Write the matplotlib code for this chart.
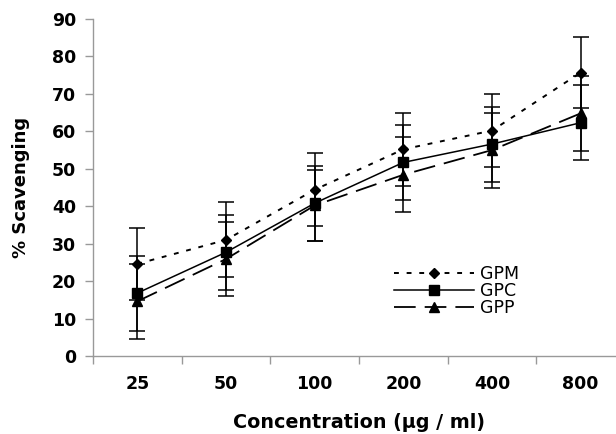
import matplotlib
matplotlib.use("Agg")
import matplotlib.pyplot as plt
import numpy as np

categories = ["25", "50", "100", "200", "400", "800"]
gpm = [24.6, 31.0, 44.4, 55.2, 60.2, 75.7]
gpc = [16.8, 27.7, 40.8, 51.7, 56.6, 62.3]
gpp = [14.6, 25.9, 40.2, 48.4, 55.0, 64.8]
gpm_err = [9.7, 10.0, 9.7, 9.8, 9.7, 9.5]
gpc_err = [10.0, 10.0, 10.0, 10.0, 10.0, 10.0]
gpp_err = [10.0, 10.0, 9.5, 10.0, 10.0, 10.0]
yticks = [0, 10, 20, 30, 40, 50, 60, 70, 80, 90]

fig = plt.figure(figsize=(6.16, 4.34), dpi=100)
ax = fig.add_axes([93/616, 1-356/434, 532/616, 337/434])
x = np.arange(len(categories))

common = dict(color="black", ecolor="black", elinewidth=1.1, capsize=5.8, capthick=1.1)
ax.errorbar(x, gpm, yerr=gpm_err, fmt="none", **common)
ax.errorbar(x, gpc, yerr=gpc_err, fmt="none", **common)
ax.errorbar(x, gpp, yerr=gpp_err, fmt="none", **common)

ax.plot(x, gpm, color="black", lw=1.4, dashes=(2.5, 4), marker="D", ms=5.5, label="GPM")
ax.plot(x, gpc, color="black", lw=1.1, ls="-", marker="s", ms=6.5, label="GPC")
ax.plot(x, gpp, color="black", lw=1.3, dashes=(12, 5), marker="^", ms=7, label="GPP")

ax.set_xlim(-0.5, 5.5)
ax.set_ylim(0, 90)
ax.set_yticks(yticks)
ax.set_xticks(x)
ax.set_xticklabels(categories)
ax.set_xticks(np.arange(-0.5, 6.0, 1.0), minor=True)
ax.tick_params(axis="x", which="major", length=0, pad=14)
ax.tick_params(axis="x", which="minor", length=6, width=1, color="#999999")
ax.tick_params(axis="y", length=6, width=1, color="#999999", pad=6)
for lab in ax.get_xticklabels() + ax.get_yticklabels():
    lab.set_fontweight("bold")
    lab.set_fontsize(12.5)
    lab.set_family("DejaVu Sans")

for s in ["top", "right"]:
    ax.spines[s].set_visible(False)
for s in ["left", "bottom"]:
    ax.spines[s].set_color("#999999")
    ax.spines[s].set_linewidth(1)

ax.set_ylabel("% Scavenging", fontsize=13, fontweight="bold", labelpad=16)
ax.set_xlabel("Concentration (µg / ml)", fontsize=13.8, fontweight="bold", labelpad=14)

leg = ax.legend(loc="upper left", bbox_to_anchor=(385/616, 1-256/434), bbox_transform=fig.transFigure,
                frameon=False, handlelength=4.6, numpoints=1, fontsize=12.5,
                labelspacing=-0.05, handletextpad=0.4, borderpad=0)

fig.savefig("out.png", dpi=100)
